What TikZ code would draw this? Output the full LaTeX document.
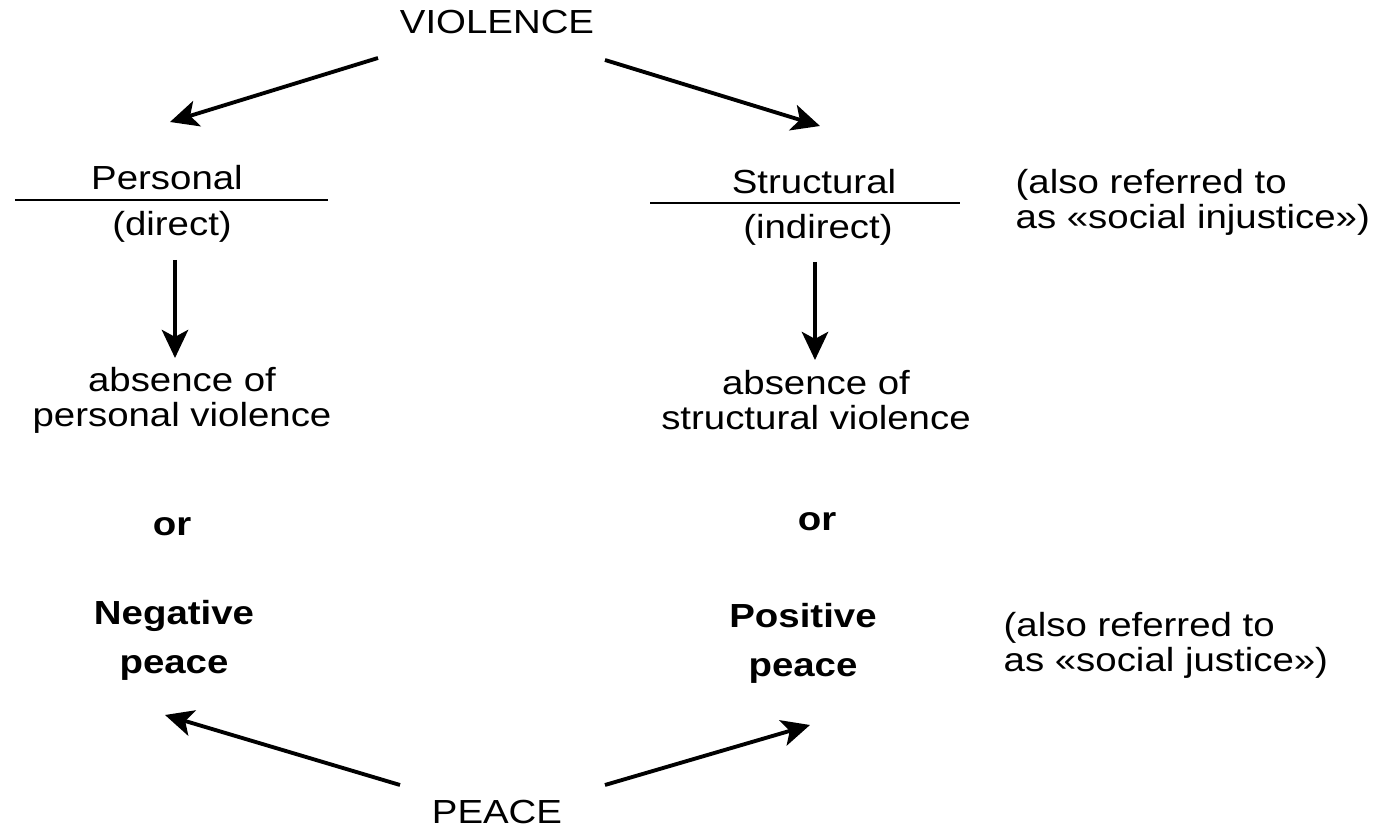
\documentclass[tikz,border=0pt]{standalone}
\usepackage{fontspec}
\setmainfont{Liberation Sans}[FakeStretch=1.15]
\usetikzlibrary{arrows.meta}

\begin{document}
\begin{tikzpicture}[
  txt/.style={font=\fontsize{9.5}{10}\selectfont, align=center, inner sep=0pt},
  boldtxt/.style={txt, font=\fontsize{9.5}{10}\selectfont\bfseries},
  note/.style={txt, align=left, anchor=west},
  arr/.style={line width=1.1pt, -{Stealth[length=8pt,width=7.5pt,inset=2pt]}},
  rule/.style={line width=0.6pt}
]
  % Bildgroesse wie Vorlage (1 cm = 100 px)
  \useasboundingbox (0,0) rectangle (13.99,-8.32);

  % 1. Oben und unten
  \node[txt] (violence) at (4.97,-0.22) {VIOLENCE};
  \node[txt] (peace)    at (4.97,-8.12) {PEACE};

  % 2. Linke Spalte (personal)
  \node[txt] (personal) at (1.67,-1.78) {Personal};
  \draw[rule] (0.15,-2.00) -- (3.28,-2.00);
  \node[txt] (direct)   at (1.72,-2.27) {(direct)};
  \node[txt] (absP)     at (1.82,-4.00) {absence of\\personal violence};
  \node[boldtxt] (orP)  at (1.72,-5.27) {or};
  \node[boldtxt] (negative) at (1.74,-6.40) {Negative\\[1.4mm]peace};

  % 3. Rechte Spalte (structural)
  \node[txt] (structural) at (8.14,-1.82) {Structural};
  \draw[rule] (6.50,-2.03) -- (9.60,-2.03);
  \node[txt] (indirect)   at (8.18,-2.30) {(indirect)};
  \node[txt] (absS)       at (8.16,-4.00) {absence of\\structural violence};
  \node[boldtxt] (orS)    at (8.17,-5.22) {or};
  \node[boldtxt] (positive) at (8.03,-6.43) {Positive\\[1.4mm]peace};

  % 4. Anmerkungen rechts
  \node[note] (injustice) at (10.15,-2.02) {(also referred to\\as «social injustice»)};
  \node[note] (justice)   at (10.03,-6.45) {(also referred to\\as «social justice»)};

  % 5. Pfeile
  \coordinate (vL) at (3.78,-0.58);
  \coordinate (pL) at (1.70,-1.22);
  \coordinate (vR) at (6.05,-0.60);
  \coordinate (sR) at (8.20,-1.26);
  \coordinate (dA) at (1.75,-2.60);
  \coordinate (dB) at (1.75,-3.58);
  \coordinate (iA) at (8.15,-2.62);
  \coordinate (iB) at (8.15,-3.60);
  \coordinate (qL) at (4.00,-7.85);
  \coordinate (nL) at (1.65,-7.15);
  \coordinate (qR) at (6.05,-7.85);
  \coordinate (nR) at (8.10,-7.25);

  \draw[arr] (vL) -- (pL);
  \draw[arr] (vR) -- (sR);
  \draw[arr] (dA) -- (dB);
  \draw[arr] (iA) -- (iB);
  \draw[arr] (qL) -- (nL);
  \draw[arr] (qR) -- (nR);

\end{tikzpicture}
\end{document}
